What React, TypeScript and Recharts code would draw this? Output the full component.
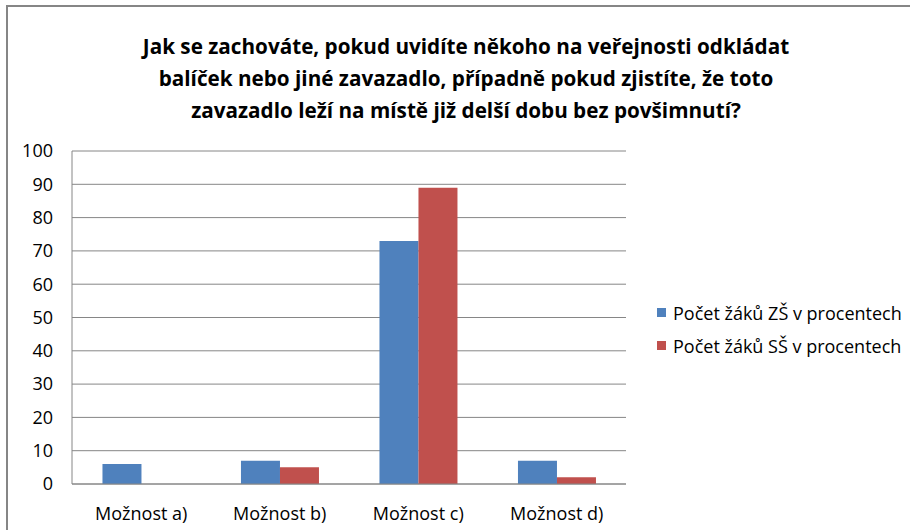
import React from 'react'
import { BarChart, Bar, XAxis, YAxis, CartesianGrid } from 'recharts'

const categories = ['Možnost a)', 'Možnost b)', 'Možnost c)', 'Možnost d)']
const zsValues = [6, 7, 73, 7]
const ssValues = [0, 5, 89, 2]
const yTicks = [0, 10, 20, 30, 40, 50, 60, 70, 80, 90, 100]
const titleLines = [
  'Jak se zachováte, pokud uvidíte někoho na veřejnosti odkládat',
  'balíček nebo jiné zavazadlo, případně pokud zjistíte, že toto',
  'zavazadlo leží na místě již delší dobu bez povšimnutí?',
]
const seriesNames = ['Počet žáků ZŠ v procentech', 'Počet žáků SŠ v procentech']
const COLORS = ['#4F81BD', '#C0504D']

const data = categories.map((name, i) => ({ name, zs: zsValues[i], ss: ssValues[i] }))

const FONT = '"Open Sans", Lato, sans-serif'

export default function App() {
  return (
    <div style={{ position: 'absolute', left: 0, top: 0, width: 910, height: 530, overflow: 'hidden', background: '#fff' }}>
      <div style={{ position: 'absolute', left: 6, top: 5, width: 930, height: 560, border: '2px solid #868686' }} />
      <div style={{
        position: 'absolute', left: 0, top: 30, width: 932, textAlign: 'center',
        fontFamily: FONT, fontWeight: 700, fontSize: 20.7, lineHeight: '32px', color: '#000',
      }}>
        {titleLines.map(l => <div key={l}>{l}</div>)}
      </div>
      <BarChart
        width={910}
        height={530}
        data={data}
        margin={{ top: 151, right: 284, bottom: 0, left: 0 }}
        barCategoryGap="22%"
        barGap={0}
        style={{ position: 'absolute', left: 0, top: 0 }}
      >
        <CartesianGrid vertical={false} stroke="#868686" />
        <XAxis
          dataKey="name"
          height={46}
          tickLine={false}
          tickSize={0}
          tickMargin={23}
          axisLine={{ stroke: '#868686' }}
          tick={{ fill: '#000', fontSize: 18, fontFamily: FONT }}
        />
        <YAxis
          width={72}
          domain={[0, 100]}
          ticks={yTicks}
          interval={0}
          tickLine={false}
          tickSize={0}
          tickMargin={19}
          axisLine={{ stroke: '#868686' }}
          tick={{ fill: '#000', fontSize: 18, fontFamily: FONT }}
        />
        <Bar dataKey="zs" name={seriesNames[0]} fill={COLORS[0]} isAnimationActive={false} />
        <Bar dataKey="ss" name={seriesNames[1]} fill={COLORS[1]} isAnimationActive={false} />
      </BarChart>
      <div style={{ position: 'absolute', left: 657, top: 296, fontFamily: FONT, fontSize: 18, color: '#000' }}>
        {seriesNames.map((n, i) => (
          <div key={n} style={{ display: 'flex', alignItems: 'center', height: 33, whiteSpace: 'nowrap' }}>
            <span style={{ width: 9, height: 9, background: COLORS[i], marginRight: 7 }} />
            {n}
          </div>
        ))}
      </div>
    </div>
  )
}
